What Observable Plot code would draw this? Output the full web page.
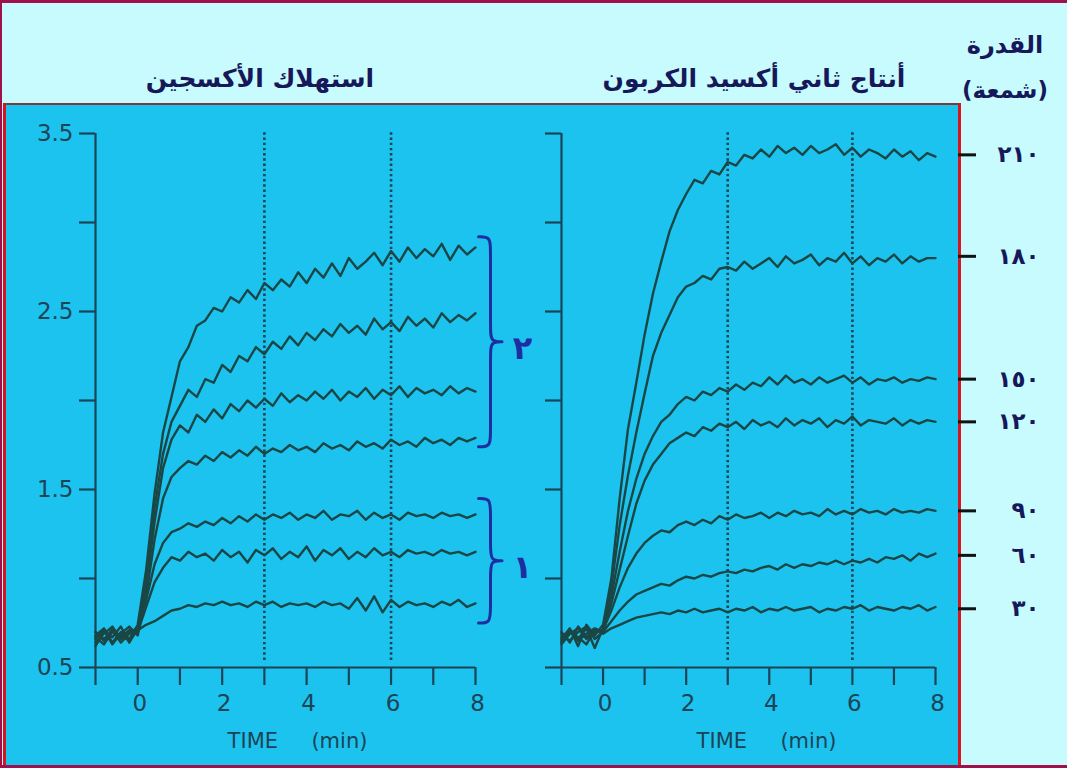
<!DOCTYPE html>
<html><head><meta charset="utf-8">
<script src="https://cdn.jsdelivr.net/npm/d3@7"></script>
<script src="https://cdn.jsdelivr.net/npm/@observablehq/plot@0.6"></script>
<style>
html,body{margin:0;padding:0;background:#c8fbfd;}
#frame{position:relative;width:1067px;height:768px;background:#c8fbfd;overflow:hidden;font-family:"DejaVu Sans",sans-serif;}
#panel{position:absolute;left:3px;top:103px;width:958px;height:665px;background:#1dc3ef;border-left:3px solid #d8141c;border-top:2px solid #7c3a3a;border-right:3px solid #d8141c;box-sizing:border-box;}
#border{position:absolute;left:0;top:0;width:1067px;height:768px;box-sizing:border-box;border-top:3px solid #a0104a;border-left:2px solid #a0104a;border-bottom:3px solid #a0104a;pointer-events:none;}
.t{position:absolute;direction:rtl;font-weight:bold;color:#16185a;white-space:nowrap;transform:translateX(-50%);line-height:32px;font-family:"DejaVu Sans",sans-serif;}
svg.chart{position:absolute;top:104px;overflow:visible;background:transparent;}
g[aria-label="ticklabels"] text{letter-spacing:4px;}
g[aria-label="timelabel"] text{letter-spacing:2px;}
g[aria-label="power-labels"] text{letter-spacing:10px;}
</style>
</head><body>
<div id="frame">
  <div id="panel"></div>
  <div class="t" style="left:260px;top:63px;font-size:25px;">استهلاك الأكسجين</div>
  <div class="t" style="left:754px;top:63px;font-size:25px;">أنتاج ثاني أكسيد الكربون</div>
  <div class="t" style="left:1005px;top:29px;font-size:24px;">القدرة</div>
  <div class="t" style="left:1005px;top:74px;font-size:23px;">(شمعة)</div>
  <div id="border"></div>
</div>
<script>
// ---- data ----
const times = [-1,-0.8,-0.6,-0.4,-0.2,0,0.2,0.4,0.6,0.8,
  1,1.2,1.4,1.6,1.8,2,2.2,2.4,2.6,2.8,
  3,3.2,3.4,3.6,3.8,4,4.2,4.4,4.6,4.8,
  5,5.2,5.4,5.6,5.8,6,6.2,6.4,6.6,6.8,
  7,7.2,7.4,7.6,7.8,8];

// oxygen consumption (left panel)
const o2_210 = [0.68,0.72,0.64,0.70,0.66,0.74,1.05,1.48,1.82,2.02,
  2.22,2.30,2.42,2.45,2.52,2.50,2.58,2.55,2.62,2.57,
  2.66,2.62,2.68,2.64,2.72,2.66,2.74,2.69,2.77,2.70,
  2.80,2.74,2.78,2.83,2.76,2.84,2.78,2.86,2.80,2.85,
  2.81,2.88,2.79,2.87,2.82,2.86];
const o2_180 = [0.62,0.70,0.67,0.73,0.64,0.72,0.98,1.40,1.70,1.88,
  1.97,2.06,2.02,2.12,2.10,2.20,2.16,2.25,2.22,2.30,
  2.26,2.33,2.29,2.36,2.31,2.38,2.34,2.40,2.36,2.43,
  2.38,2.42,2.37,2.46,2.40,2.44,2.39,2.47,2.42,2.46,
  2.41,2.49,2.44,2.48,2.45,2.49];
const o2_150 = [0.70,0.65,0.72,0.67,0.71,0.70,0.95,1.32,1.62,1.78,
  1.86,1.82,1.92,1.88,1.95,1.90,1.98,1.94,2.00,1.96,
  2.01,1.97,2.04,1.99,2.03,2.00,2.05,2.01,2.06,2.00,
  2.05,2.02,2.07,2.01,2.06,2.03,2.08,2.02,2.07,2.04,
  2.06,2.03,2.08,2.04,2.07,2.05];
const o2_120 = [0.66,0.71,0.63,0.69,0.73,0.68,0.90,1.22,1.45,1.57,
  1.62,1.66,1.64,1.69,1.66,1.71,1.68,1.72,1.69,1.74,
  1.70,1.73,1.71,1.75,1.72,1.74,1.71,1.76,1.73,1.75,
  1.72,1.77,1.74,1.76,1.73,1.78,1.75,1.77,1.74,1.79,
  1.76,1.78,1.75,1.79,1.77,1.79];
const o2_90 = [0.64,0.69,0.73,0.66,0.70,0.72,0.88,1.08,1.20,1.26,
  1.28,1.31,1.29,1.32,1.30,1.34,1.31,1.35,1.32,1.36,
  1.33,1.36,1.34,1.37,1.33,1.36,1.34,1.38,1.33,1.36,
  1.35,1.38,1.33,1.37,1.34,1.36,1.33,1.37,1.35,1.36,
  1.34,1.37,1.35,1.36,1.34,1.36];
const o2_60 = [0.70,0.66,0.71,0.64,0.69,0.70,0.84,0.98,1.06,1.12,
  1.10,1.15,1.12,1.14,1.10,1.16,1.12,1.15,1.09,1.16,
  1.13,1.17,1.11,1.15,1.12,1.18,1.10,1.16,1.13,1.17,
  1.11,1.15,1.12,1.17,1.13,1.15,1.12,1.16,1.14,1.15,
  1.13,1.16,1.14,1.15,1.13,1.15];
const o2_30 = [0.67,0.63,0.70,0.68,0.65,0.71,0.74,0.76,0.79,0.82,
  0.83,0.85,0.84,0.86,0.85,0.87,0.85,0.86,0.84,0.87,
  0.85,0.87,0.84,0.86,0.85,0.86,0.84,0.87,0.85,0.86,
  0.83,0.89,0.82,0.90,0.81,0.88,0.84,0.87,0.85,0.86,
  0.84,0.87,0.85,0.88,0.84,0.86];

// carbon dioxide production (right panel)
const co2_210 = [0.66,0.72,0.62,0.74,0.68,0.74,1.00,1.45,1.84,2.10,
  2.37,2.60,2.78,2.95,3.07,3.16,3.24,3.22,3.29,3.27,
  3.34,3.32,3.38,3.36,3.41,3.37,3.43,3.39,3.42,3.38,
  3.43,3.39,3.41,3.44,3.38,3.42,3.37,3.41,3.39,3.36,
  3.41,3.37,3.40,3.35,3.39,3.37];
const co2_180 = [0.64,0.70,0.66,0.72,0.61,0.72,0.95,1.30,1.58,1.82,
  2.04,2.25,2.38,2.48,2.58,2.64,2.66,2.70,2.68,2.74,
  2.75,2.73,2.78,2.74,2.77,2.80,2.75,2.81,2.77,2.79,
  2.82,2.76,2.80,2.78,2.83,2.77,2.81,2.76,2.80,2.78,
  2.82,2.77,2.81,2.78,2.80,2.80];
const co2_150 = [0.70,0.64,0.73,0.67,0.71,0.70,0.90,1.15,1.38,1.56,
  1.70,1.80,1.88,1.92,1.98,2.02,2.00,2.05,2.03,2.07,
  2.05,2.09,2.06,2.10,2.08,2.13,2.09,2.14,2.10,2.12,
  2.09,2.13,2.10,2.12,2.14,2.10,2.13,2.09,2.12,2.11,
  2.13,2.10,2.12,2.11,2.13,2.12];
const co2_120 = [0.67,0.71,0.65,0.69,0.72,0.70,0.86,1.05,1.24,1.42,
  1.55,1.64,1.70,1.76,1.79,1.82,1.80,1.85,1.83,1.87,
  1.85,1.88,1.84,1.89,1.86,1.88,1.85,1.90,1.86,1.89,
  1.87,1.90,1.85,1.89,1.87,1.91,1.86,1.89,1.88,1.87,
  1.90,1.86,1.89,1.87,1.89,1.88];
const co2_90 = [0.63,0.69,0.72,0.66,0.70,0.71,0.82,0.95,1.06,1.14,
  1.20,1.24,1.27,1.26,1.30,1.32,1.30,1.33,1.31,1.35,
  1.33,1.36,1.34,1.35,1.37,1.34,1.37,1.35,1.38,1.36,
  1.37,1.35,1.39,1.36,1.38,1.36,1.39,1.37,1.38,1.36,
  1.39,1.37,1.38,1.37,1.39,1.38];
const co2_60 = [0.69,0.65,0.70,0.73,0.66,0.70,0.76,0.82,0.87,0.91,
  0.93,0.95,0.97,0.96,0.99,1.01,1.00,1.02,1.01,1.03,
  1.04,1.03,1.05,1.04,1.06,1.07,1.05,1.08,1.06,1.08,
  1.07,1.09,1.08,1.10,1.08,1.10,1.09,1.11,1.09,1.12,
  1.11,1.13,1.10,1.14,1.12,1.14];
const co2_30 = [0.65,0.70,0.67,0.63,0.71,0.69,0.72,0.74,0.76,0.78,
  0.79,0.80,0.81,0.80,0.82,0.81,0.83,0.81,0.82,0.83,
  0.81,0.83,0.82,0.84,0.81,0.83,0.82,0.84,0.82,0.83,
  0.84,0.81,0.83,0.82,0.84,0.83,0.85,0.82,0.84,0.83,
  0.82,0.84,0.83,0.85,0.82,0.84];

const seriesNames = ["210","180","150","120","90","60","30"];
const xTicks = [-1,0,1,2,3,4,5,6,7,8];
const xTickLabels = ["","0","","2","","4","","6","","8"];
const yTicks = [0.5,1,1.5,2,2.5,3,3.5];
const yTickLabels = ["0.5","","1.5","","2.5","","3.5"];
const markerTimes = [3,6];
const timeLabel = "TIME     (min)";

const powerLabels = ["٢١٠","١٨٠","١٥٠","١٢٠","٩٠","٦٠","٣٠"];
const powerLevels = [3.38,2.81,2.12,1.88,1.38,1.13,0.83];

const groupLabels = ["٢","١"];
const groupTop = [2.92,1.45];
const groupBottom = [1.74,0.75];

// ---- layout / style ----
const curveColor = "#1a4746", axisColor = "#1b4456", braceColor = "#1e2ea0", navy = "#16185a";
const H = 664, MT = 29, MB = 101;
const pxPerUnit = (H - MT - MB) / 3;

function tidy(arrays){
  const rows = [];
  seriesNames.forEach((n,k) => arrays[k].forEach((v,i) => rows.push({s:n, t:times[i], v})));
  return rows;
}

function axisMarks(pxPerMin, showY, timeDx){
  const xtick = 18 / pxPerUnit, ytick = 16 / pxPerMin;
  const xt = xTicks.map((t,i) => ({t, label: xTickLabels[i]}));
  const yt = yTicks.map((v,i) => ({v, label: yTickLabels[i]}));
  const m = [
    Plot.ruleX(markerTimes, {x: d => d, y1: 0.54, y2: 3.51, stroke: axisColor, strokeWidth: 2.6, strokeDasharray: "2.4,2.8"}),
    Plot.ruleY([0.5], {y: d => d, x1: -1, x2: 8, stroke: axisColor, strokeWidth: 2.2}),
    Plot.ruleX([-1], {x: d => d, y1: 0.5, y2: 3.5, stroke: axisColor, strokeWidth: 2.2}),
    Plot.ruleX(xt, {x: "t", y1: 0.5, y2: 0.5 - xtick, stroke: axisColor, strokeWidth: 2.2}),
    Plot.ruleY(yt, {y: "v", x1: -1, x2: -1 - ytick, stroke: axisColor, strokeWidth: 2.2}),
    Plot.text(xt, {x: "t", text: "label", frameAnchor: "bottom", dy: 43, dx: 2, fontSize: 23, fill: axisColor, ariaLabel: "ticklabels"}),
    Plot.text([timeLabel], {frameAnchor: "bottom", dy: 80, dx: timeDx, fontSize: 21, fill: axisColor, ariaLabel: "timelabel"})
  ];
  if (showY) m.push(Plot.text(yt, {y: "v", text: "label", frameAnchor: "left", dx: -22, textAnchor: "end", fontSize: 23, fill: axisColor, ariaLabel: "ticklabels"}));
  return m;
}

// braces (left panel)
const pxPerMinL = 380 / 9, pxPerMinR = 374 / 9;
const bx0 = 8 + 3 / pxPerMinL, bx1 = 8 + 15 / pxPerMinL, bx2 = 8 + 27 / pxPerMinL, bc = 14 / pxPerUnit;
const braceRows = [];
groupLabels.forEach((g,k) => {
  const top = groupTop[k], bot = groupBottom[k], mid = (top + bot) / 2;
  [[bx0,top],[bx1,top],[bx1,top-bc],[bx1,mid+bc],[bx1,mid],[bx2,mid],[bx2,mid],[bx1,mid],[bx1,mid-bc],[bx1,bot+bc],[bx1,bot],[bx0,bot]]
    .forEach(([x,y]) => braceRows.push({g, x, y}));
});
const groupData = groupLabels.map((g,k) => ({g, x: 8 + 47 / pxPerMinL, y: (groupTop[k] + groupBottom[k]) / 2 - 0.04}));

const left = Plot.plot({
  width: 540, height: H, marginLeft: 95, marginRight: 65, marginTop: MT, marginBottom: MB,
  x: {domain: [-1, 8], axis: null},
  y: {domain: [0.5, 3.5], axis: null},
  style: {background: "transparent", overflow: "visible", fontFamily: '"DejaVu Sans", sans-serif'},
  marks: [
    ...axisMarks(pxPerMinL, true, 12),
    Plot.line(tidy([o2_210,o2_180,o2_150,o2_120,o2_90,o2_60,o2_30]), {x: "t", y: "v", z: "s", stroke: curveColor, strokeWidth: 2.4, strokeLinejoin: "round"}),
    Plot.line(braceRows, {x: "x", y: "y", z: "g", curve: "basis", stroke: braceColor, strokeWidth: 3}),
    Plot.text(groupData, {x: "x", y: "y", text: "g", fontSize: 32, fontWeight: "bold", fill: braceColor, fontFamily: '"DejaVu Sans", sans-serif'})
  ]
});
left.classList.add("chart");
left.style.left = "0px";

const powerData = powerLabels.map((p,i) => ({p, v: powerLevels[i]}));
const ox1 = 8 + 23 / pxPerMinR, ox2 = 8 + 41 / pxPerMinR;

const right = Plot.plot({
  width: 597, height: H, marginLeft: 91, marginRight: 132, marginTop: MT, marginBottom: MB,
  x: {domain: [-1, 8], axis: null},
  y: {domain: [0.5, 3.5], axis: null},
  style: {background: "transparent", overflow: "visible", fontFamily: '"DejaVu Sans", sans-serif'},
  marks: [
    ...axisMarks(pxPerMinR, false, 18),
    Plot.line(tidy([co2_210,co2_180,co2_150,co2_120,co2_90,co2_60,co2_30]), {x: "t", y: "v", z: "s", stroke: curveColor, strokeWidth: 2.4, strokeLinejoin: "round"}),
    Plot.ruleY(powerData, {y: "v", x1: ox1, x2: ox2, stroke: "#111", strokeWidth: 3}),
    Plot.text(powerData, {y: "v", text: "p", frameAnchor: "right", dx: 104, fontSize: 23, fontWeight: "bold", fill: navy, ariaLabel: "power-labels"})
  ]
});
right.classList.add("chart");
right.style.left = "470px";

const frame = document.getElementById("frame");
frame.insertBefore(left, document.getElementById("border"));
frame.insertBefore(right, document.getElementById("border"));
</script>
</body></html>
